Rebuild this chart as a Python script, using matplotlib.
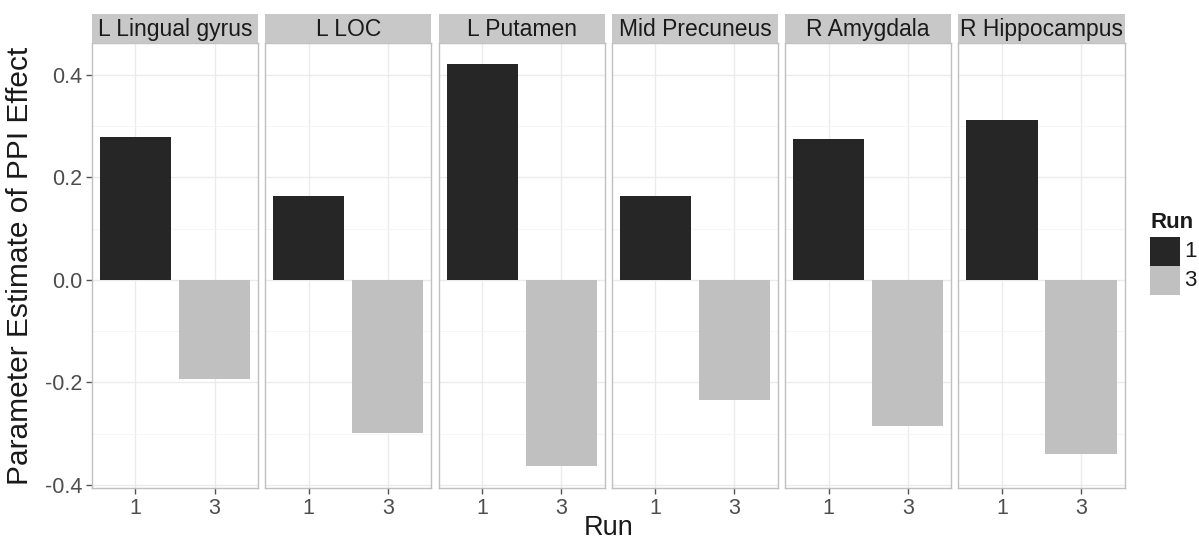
import numpy as np
import matplotlib.pyplot as plt
from matplotlib.patches import Rectangle

plt.rcParams['font.family'] = ['Liberation Sans', 'DejaVu Sans']

regions = ['L Lingual gyrus', 'L LOC', 'L Putamen', 'Mid Precuneus', 'R Amygdala', 'R Hippocampus']
runs = ['1', '3']
run1 = [0.278, 0.163, 0.421, 0.163, 0.275, 0.311]
run3 = [-0.194, -0.299, -0.364, -0.234, -0.285, -0.339]
yticks = [-0.4, -0.2, 0.0, 0.2, 0.4]
colors = ['#262626', '#c0c0c0']

W, H = 1199, 546
fig = plt.figure(figsize=(W / 100, H / 100), dpi=100)

px_left, px_w, px_gap = 92, 166, 7.3
px_top, px_bot = 43, 488
strip_h = 29

for i, reg in enumerate(regions):
    x0 = px_left + i * (px_w + px_gap)
    ax = fig.add_axes([x0 / W, 1 - px_bot / H, px_w / W, (px_bot - px_top) / H])
    vals = [run1[i], run3[i]]
    ax.bar(runs, vals, width=0.9, color=colors, zorder=2)
    ax.set_xlim(-0.55, 1.55)
    ax.set_ylim(-0.406, 0.462)
    ax.set_yticks(yticks)
    ax.set_yticks(np.arange(-0.3, 0.5, 0.2), minor=True)
    ax.grid(True, which='major', color='#ebebeb', lw=1.0, zorder=0)
    ax.grid(True, which='minor', axis='y', color='#f5f5f5', lw=0.6, zorder=0)
    for s in ax.spines.values():
        s.set_color('#c0c0c0')
        s.set_linewidth(1.0)
    ax.tick_params(axis='both', which='major', colors='#555555', labelcolor='#4d4d4d',
                   labelsize=15.5, length=4, width=1, pad=3)
    ax.tick_params(axis='y', which='minor', length=0)
    if i == 0:
        ax.set_yticklabels(['-0.4', '-0.2', '0.0', '0.2', '0.4'])
    else:
        ax.tick_params(axis='y', which='major', left=False, labelleft=False)
    ax.set_axisbelow(True)

    sax = fig.add_axes([x0 / W, 1 - (px_top) / H, px_w / W, strip_h / H])
    sax.set_facecolor('#c8c8c8')
    sax.set_xticks([])
    sax.set_yticks([])
    for s in sax.spines.values():
        s.set_visible(False)
    sax.text(0.5, 0.45, reg, ha='center', va='center', fontsize=16.5, color='#1a1a1a',
             transform=sax.transAxes)

fig.text(20 / W, 1 - ((px_top + px_bot) / 2) / H, 'Parameter Estimate of PPI Effect',
         rotation=90, ha='center', va='center', fontsize=21.5, color='#1a1a1a')
x_mid = (px_left + 5 * (px_w + px_gap) + px_w + px_left) / 2
fig.text(x_mid / W, 1 - 528 / H, 'Run', ha='center', va='center', fontsize=19.5, color='#1a1a1a')

# legend
fig.text(1150 / W, 1 - 223 / H, 'Run', ha='left', va='center', fontsize=16, fontweight='bold',
         color='#1a1a1a')
for k, r in enumerate(runs):
    ytop = 237 + k * 29
    fig.patches.append(Rectangle((1150 / W, 1 - (ytop + 29) / H), 30 / W, 29 / H,
                                 transform=fig.transFigure, facecolor=colors[k], edgecolor='none'))
    fig.text(1184 / W, 1 - (ytop + 14.5) / H, r, ha='left', va='center', fontsize=16,
             color='#1a1a1a')

fig.savefig('out.png', dpi=100)
